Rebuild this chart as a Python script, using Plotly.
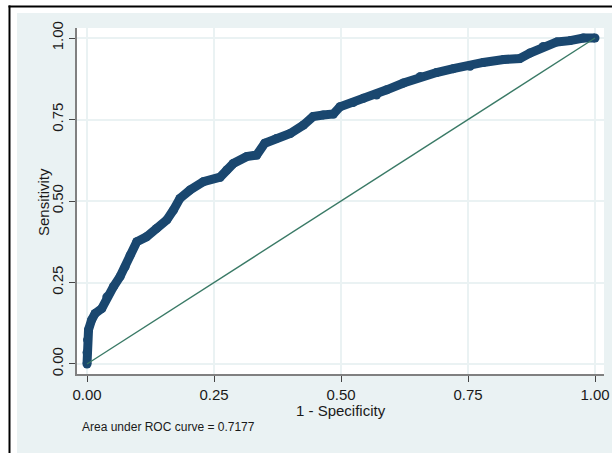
import plotly.graph_objects as go

# ROC curve points (1 - specificity, sensitivity)
fpr = [0.0, 0.0, 0.001, 0.003, 0.009, 0.016, 0.029, 0.039, 0.052, 0.065, 0.075,
       0.085, 0.098, 0.117, 0.137, 0.157, 0.170, 0.183, 0.203, 0.229, 0.262,
       0.275, 0.288, 0.314, 0.334, 0.350, 0.373, 0.400, 0.426, 0.445, 0.465,
       0.485, 0.498, 0.524, 0.544, 0.570, 0.590, 0.623, 0.656, 0.688, 0.721,
       0.754, 0.780, 0.820, 0.852, 0.872, 0.898, 0.925, 0.951, 0.977, 1.0]
tpr = [0.0, 0.035, 0.074, 0.105, 0.135, 0.155, 0.170, 0.206, 0.237, 0.268, 0.298,
       0.334, 0.375, 0.390, 0.416, 0.442, 0.472, 0.508, 0.534, 0.559, 0.573,
       0.595, 0.615, 0.636, 0.641, 0.677, 0.692, 0.707, 0.733, 0.759, 0.764,
       0.767, 0.789, 0.802, 0.815, 0.825, 0.841, 0.862, 0.882, 0.894, 0.906,
       0.913, 0.925, 0.934, 0.937, 0.954, 0.974, 0.988, 0.992, 1.0, 1.0]
ref_x = [0, 1]
ref_y = [0, 1]
tick_vals = [0, 0.25, 0.5, 0.75, 1.0]
tick_text = ["0.00", "0.25", "0.50", "0.75", "1.00"]
auc_text = "Area under ROC curve = 0.7177"

W, H = 612, 453
L, R, T, B = 77, 8, 28, 79
pw, ph = W - L - R, H - T - B

def px(x):
    return (x - L) / pw

def py(y):
    return (H - B - y) / ph

FONT = "Liberation Sans, Arial, sans-serif"
BG = "#EAF2F3"
TXT = "#1a1a1a"

fig = go.Figure()
fig.add_trace(go.Scatter(x=fpr, y=tpr, mode="lines+markers",
                         line=dict(color="#1A476F", width=9),
                         marker=dict(color="#1A476F", size=9),
                         showlegend=False, hoverinfo="skip"))
fig.add_trace(go.Scatter(x=ref_x, y=ref_y, mode="lines",
                         line=dict(color="#3A7A66", width=1.4),
                         showlegend=False, hoverinfo="skip"))

shapes = [
    dict(type="rect", xref="paper", yref="paper", x0=px(0), x1=px(17), y0=py(H), y1=py(0),
         fillcolor="white", line_width=0),
    dict(type="rect", xref="paper", yref="paper", x0=px(0), x1=px(W), y0=py(13), y1=py(0),
         fillcolor="white", line_width=0),
    dict(type="line", xref="paper", yref="paper", x0=px(9.5), x1=px(9.5), y0=py(H), y1=py(5.5),
         line=dict(color="black", width=2)),
    dict(type="line", xref="paper", yref="paper", x0=px(8.5), x1=px(W), y0=py(6.5), y1=py(6.5),
         line=dict(color="black", width=2)),
]

axis_common = dict(
    tickvals=tick_vals, ticktext=tick_text, showgrid=True, gridcolor=BG, gridwidth=1.5,
    zeroline=False, showline=True, linecolor="#808080", linewidth=1.5,
    ticks="outside", ticklen=6, tickcolor="#444444", tickwidth=1,
    tickfont=dict(family=FONT, size=15, color=TXT), automargin=False,
)

fig.update_layout(
    width=W, height=H, margin=dict(l=L, r=R, t=T, b=B),
    paper_bgcolor=BG, plot_bgcolor="white",
    xaxis=dict(range=[-0.0197, 1.0177], **axis_common),
    yaxis=dict(range=[-0.0307, 1.0307], tickangle=-90, **axis_common),
    shapes=shapes,
    annotations=[
        dict(text="1 - Specificity", xref="paper", yref="paper", x=px(341), y=py(410),
             xanchor="center", yanchor="middle", showarrow=False,
             font=dict(family=FONT, size=15, color=TXT)),
        dict(text="Sensitivity", xref="paper", yref="paper", x=px(43), y=py(202),
             xanchor="center", yanchor="middle", showarrow=False, textangle=-90,
             font=dict(family=FONT, size=15, color=TXT)),
        dict(text=auc_text, xref="paper", yref="paper", x=px(80), y=py(427),
             xanchor="left", yanchor="middle", showarrow=False,
             font=dict(family=FONT, size=12, color=TXT)),
    ],
)

fig.write_html("out.html", config={"displayModeBar": False},
               post_script="document.body.style.margin='0px';document.body.style.overflow='hidden';")
